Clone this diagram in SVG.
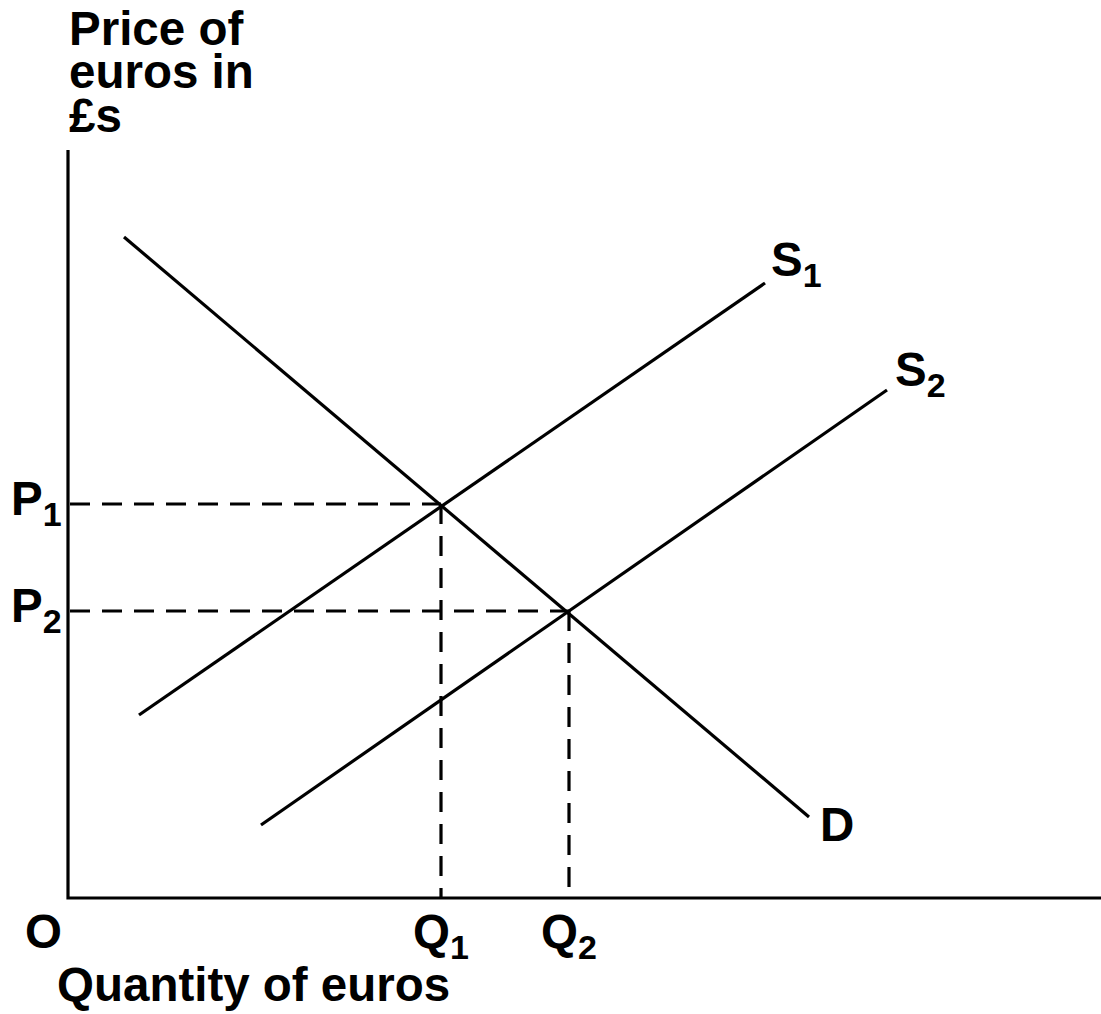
<svg xmlns="http://www.w3.org/2000/svg" width="1101" height="1014" viewBox="0 0 1101 1014">
<style>
.ln{stroke:#000;stroke-width:3.2;fill:none}
.ds{stroke:#000;stroke-width:3.2;fill:none;stroke-dasharray:20 12}
text{font-family:"Liberation Sans",Arial,sans-serif;font-weight:bold;fill:#000}
.t{font-size:47.5px}
.s{font-size:34px}
</style>
<rect width="1101" height="1014" fill="#fff"/>
<g id="axes">
<path class="ln" d="M68,150 V898 H1101"/>
</g>
<g id="connectors">
<path class="ds" d="M70,504 H441"/>
<path class="ds" d="M441,504 V898"/>
<path class="ds" d="M70,611 H569"/>
<path class="ds" d="M569,611 V898"/>
</g>
<g id="curve-D"><line class="ln" x1="124" y1="237" x2="809" y2="817"/><text class="t" x="820" y="841">D</text></g>
<g id="curve-S1"><line class="ln" x1="139" y1="715" x2="765" y2="283"/><text class="t" x="771" y="276">S<tspan class="s" dy="11">1</tspan></text></g>
<g id="curve-S2"><line class="ln" x1="261" y1="825" x2="887" y2="390"/><text class="t" x="895" y="386">S<tspan class="s" dy="11">2</tspan></text></g>
<g id="label-y"><text class="t" x="69" y="45">Price of<tspan x="69" y="88">euros in</tspan><tspan x="69" y="132">£s</tspan></text></g>
<g id="label-P1"><text class="t" x="11" y="515">P<tspan class="s" dy="11">1</tspan></text></g>
<g id="label-P2"><text class="t" x="11" y="622">P<tspan class="s" dy="11">2</tspan></text></g>
<g id="label-O"><text class="t" x="25" y="948">O</text></g>
<g id="label-Q1"><text class="t" x="413" y="948">Q<tspan class="s" dy="11">1</tspan></text></g>
<g id="label-Q2"><text class="t" x="541" y="948">Q<tspan class="s" dy="11">2</tspan></text></g>
<g id="label-x"><text class="t" x="57" y="1001">Quantity of euros</text></g>
</svg>
